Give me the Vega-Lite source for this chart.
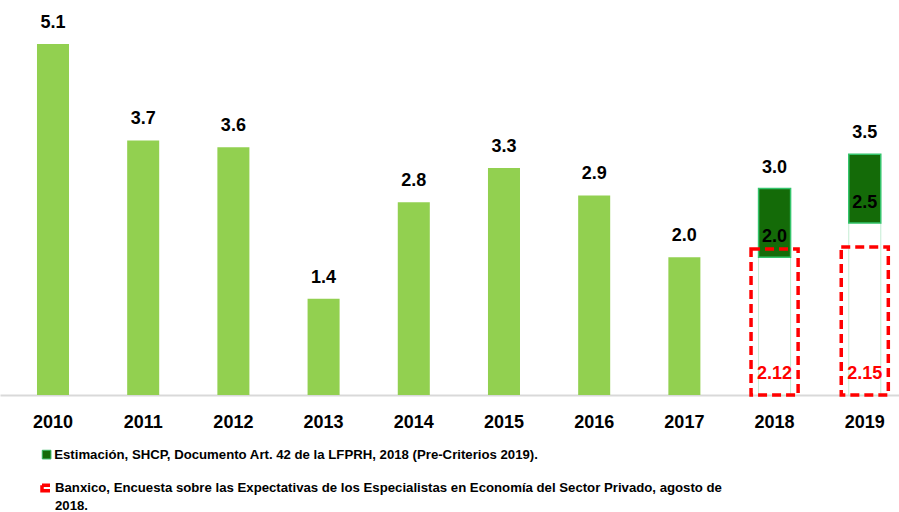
{
  "$schema": "https://vega.github.io/schema/vega-lite/v6.json",
  "width": 899,
  "height": 395,
  "autosize": "none",
  "padding": {"left": 0, "top": 0, "right": 0, "bottom": 117},
  "background": "white",
  "config": {"view": {"stroke": null}, "font": "Liberation Sans", "style": {"guide-label": {"lineHeight": 18}}},
  "data": {
    "values": [
      {"year": "2010", "value": 5.1},
      {"year": "2011", "value": 3.7},
      {"year": "2012", "value": 3.6},
      {"year": "2013", "value": 1.4},
      {"year": "2014", "value": 2.8},
      {"year": "2015", "value": 3.3},
      {"year": "2016", "value": 2.9},
      {"year": "2017", "value": 2.0},
      {"year": "2018", "low": 2.0, "high": 3.0, "banxico": 2.12},
      {"year": "2019", "low": 2.5, "high": 3.5, "banxico": 2.15}
    ]
  },
  "encoding": {
    "x": {
      "field": "year",
      "type": "ordinal",
      "title": null,
      "scale": {"paddingInner": 0.645, "paddingOuter": 0.306, "align": 0.67},
      "axis": {
        "domainColor": "#d9d9d9",
        "domainWidth": 2,
        "ticks": false,
        "labelAngle": 0,
        "labelFont": "Liberation Sans",
        "labelFontWeight": "bold",
        "labelFontSize": 18,
        "labelColor": "black",
        "labelPadding": 18,
        "grid": false
      }
    }
  },
  "layer": [
    {
      "transform": [{"filter": "isValid(datum.value)"}],
      "mark": {"type": "bar", "color": "#92d050", "width": {"band": 1}},
      "encoding": {
        "y": {"field": "value", "type": "quantitative", "scale": {"domain": [0, 5.74], "nice": false}, "axis": null}
      }
    },
    {
      "transform": [{"filter": "isValid(datum.low)"}],
      "mark": {"type": "bar", "fill": "white", "stroke": "#c4ecd3", "strokeWidth": 1, "width": {"band": 1}},
      "encoding": {
        "y": {"field": "low", "type": "quantitative", "scale": {"domain": [0, 5.74], "nice": false}, "axis": null}
      }
    },
    {
      "transform": [{"filter": "isValid(datum.low)"}],
      "mark": {"type": "bar", "stroke": "#34c46b", "strokeWidth": 1.5, "width": {"band": 1}},
      "encoding": {
        "y": {"field": "low", "type": "quantitative", "scale": {"domain": [0, 5.74], "nice": false}, "axis": null},
        "y2": {"field": "high"},
        "fill": {
          "datum": "Estimación, SHCP, Documento Art. 42 de la LFPRH, 2018 (Pre-Criterios 2019).",
          "type": "nominal",
          "scale": {"range": ["#146b08"]},
          "legend": {
            "orient": "none",
            "legendX": 40,
            "legendY": 448,
            "title": null,
            "padding": 0,
            "symbolType": "square",
            "symbolSize": 75,
            "symbolStrokeColor": "#35b45f",
            "symbolStrokeWidth": 1,
            "labelFont": "Liberation Sans",
            "labelFontWeight": "bold",
            "labelFontSize": 13.2,
            "labelColor": "black",
            "labelLimit": 900,
            "labelOffset": 1
          }
        }
      }
    },
    {
      "transform": [{"filter": "isValid(datum.banxico)"}],
      "mark": {"type": "bar", "fill": "transparent", "strokeWidth": 3.5, "strokeDash": [9, 5], "width": {"band": 1.47}},
      "encoding": {
        "y": {"field": "banxico", "type": "quantitative", "scale": {"domain": [0, 5.74], "nice": false}, "axis": null},
        "stroke": {
          "datum": "Banxico, Encuesta sobre las Expectativas de los Especialistas en Economía del Sector Privado, agosto de 2018.",
          "type": "nominal",
          "scale": {"range": ["#ff0000"]},
          "legend": {
            "orient": "none",
            "legendX": 39,
            "legendY": 475,
            "title": null,
            "padding": 0,
            "symbolType": "M0.8,0.65H-0.8V1.75H0.8",
            "symbolSize": 100,
            "symbolStrokeWidth": 3.5,
            "symbolFillColor": "transparent",
            "symbolDash": [1, 0],
            "labelFont": "Liberation Sans",
            "labelFontWeight": "bold",
            "labelFontSize": 13.2,
            "labelColor": "black",
            "labelLimit": 900,
            "labelOffset": 2,
            "labelBaseline": "top",
            "labelExpr": "[substring(datum.label, 0, length(datum.label) - 6), '2018.']"
          }
        }
      }
    },
    {
      "transform": [{"filter": "isValid(datum.value)"}],
      "mark": {"type": "text", "font": "Liberation Sans", "fontWeight": "bold", "fontSize": 18, "baseline": "alphabetic", "dy": -16, "color": "black"},
      "encoding": {
        "y": {"field": "value", "type": "quantitative", "scale": {"domain": [0, 5.74], "nice": false}, "axis": null},
        "text": {"field": "value", "type": "quantitative", "format": ".1f"}
      }
    },
    {
      "transform": [{"filter": "isValid(datum.high)"}],
      "mark": {"type": "text", "font": "Liberation Sans", "fontWeight": "bold", "fontSize": 18, "baseline": "alphabetic", "dy": -16, "color": "black"},
      "encoding": {
        "y": {"field": "high", "type": "quantitative", "scale": {"domain": [0, 5.74], "nice": false}, "axis": null},
        "text": {"field": "high", "type": "quantitative", "format": ".1f"}
      }
    },
    {
      "transform": [{"filter": "isValid(datum.low)"}],
      "mark": {"type": "text", "font": "Liberation Sans", "fontWeight": "bold", "fontSize": 18, "baseline": "alphabetic", "dy": -15, "color": "black"},
      "encoding": {
        "y": {"field": "low", "type": "quantitative", "scale": {"domain": [0, 5.74], "nice": false}, "axis": null},
        "text": {"field": "low", "type": "quantitative", "format": ".1f"}
      }
    },
    {
      "transform": [{"filter": "isValid(datum.banxico)"}],
      "mark": {"type": "text", "font": "Liberation Sans", "fontWeight": "bold", "fontSize": 18, "baseline": "alphabetic", "dy": -16, "color": "#ff0000"},
      "encoding": {
        "y": {"datum": 0, "type": "quantitative", "scale": {"domain": [0, 5.74], "nice": false}, "axis": null},
        "text": {"field": "banxico", "type": "quantitative", "format": ".2f"}
      }
    }
  ]
}
